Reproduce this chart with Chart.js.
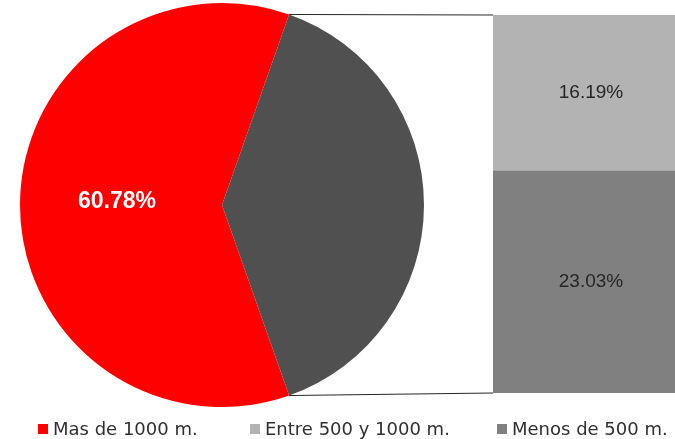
<!DOCTYPE html>
<html><head><meta charset="utf-8">
<script src="https://cdn.jsdelivr.net/npm/chart.js@4.4.1/dist/chart.umd.min.js"></script>
<style>
html,body{margin:0;padding:0;width:675px;height:439px;overflow:hidden;background:#fff;}
#barWrap{position:absolute;left:493px;top:15px;width:196px;height:378px;}
#pieWrap{position:absolute;left:0;top:0;width:675px;height:439px;}
#legend{position:absolute;top:418px;left:0;width:675px;height:21px;font-family:"DejaVu Sans",sans-serif;font-size:18px;color:#303030;}
.item{position:absolute;top:0;height:21px;display:flex;align-items:center;white-space:nowrap;}
.sw{width:10px;height:10px;margin-right:5px;flex:none;}
</style></head>
<body>
<div id="barWrap"><canvas id="bar"></canvas></div>
<div id="pieWrap"><canvas id="pie"></canvas></div>
<div id="legend"></div>
<script>
// ---- data ----
const categories = ['Mas de 1000 m.', 'Entre 500 y 1000 m.', 'Menos de 500 m.'];
const pieLabels = ['Mas de 1000 m.', 'Otros'];
const mainValue = 60.78;
const barCategories = ['Menos de 500 m.', 'Entre 500 y 1000 m.'];   // bottom -> top
const barValues = [23.03, 16.19];
// ---- styles ----
const catColors = ['#ff0000', '#b3b3b3', '#808080'];
const otherColor = '#505050';
const barColors = ['#808080', '#b3b3b3'];
const legendLefts = [38, 250, 497];

const fmt = v => v.toFixed(2) + '%';
const otherTotal = barValues.reduce((a, b) => a + b, 0);

// ---- bar (stacked) ----
const barLabelPlugin = {
  id: 'barLabels',
  afterDatasetsDraw(chart) {
    const ctx = chart.ctx;
    ctx.save();
    ctx.font = '19px "Liberation Sans", Arial, sans-serif';
    ctx.fillStyle = '#262626';
    ctx.textAlign = 'center';
    ctx.textBaseline = 'middle';
    chart.data.datasets.forEach((ds, i) => {
      chart.getDatasetMeta(i).data.forEach((el, j) => {
        const p = el.getProps(['x', 'y', 'base'], true);
        ctx.fillText(fmt(ds.data[j]), p.x, (p.y + p.base) / 2);
      });
    });
    ctx.restore();
  }
};
const barChart = new Chart(document.getElementById('bar'), {
  type: 'bar',
  data: {
    labels: [''],
    datasets: barCategories.map((c, i) => ({
      label: c, data: [barValues[i]], backgroundColor: barColors[i],
      borderWidth: 0, barPercentage: 1, categoryPercentage: 1
    }))
  },
  options: {
    responsive: true, maintainAspectRatio: false, animation: false,
    layout: { padding: 0 },
    plugins: { legend: { display: false }, tooltip: { enabled: false } },
    scales: {
      x: { display: false, stacked: true },
      y: { display: false, stacked: true, min: 0, max: otherTotal }
    }
  },
  plugins: [barLabelPlugin]
});

// ---- pie ----
const piePlugin = {
  id: 'pieExtras',
  afterDraw(chart) {
    const ctx = chart.ctx;
    const arcs = chart.getDatasetMeta(0).data;
    const a = arcs[0].getProps(['x', 'y', 'startAngle', 'endAngle', 'outerRadius'], true);
    const mid = (a.startAngle + a.endAngle) / 2;
    ctx.save();
    ctx.font = 'bold 23px "Liberation Sans", Arial, sans-serif';
    ctx.fillStyle = '#ffffff';
    ctx.textAlign = 'center';
    ctx.textBaseline = 'middle';
    ctx.fillText(fmt(chart.data.datasets[0].data[0]), a.x + Math.cos(mid) * a.outerRadius * 0.52, a.y - 3 + Math.sin(mid) * a.outerRadius * 0.52);
    // connectors
    const o = arcs[1].getProps(['x', 'y', 'startAngle', 'endAngle', 'outerRadius'], true);
    const pr = chart.canvas.getBoundingClientRect();
    const br = barChart.canvas.getBoundingClientRect();
    const dx = br.left - pr.left, dy = br.top - pr.top;
    const t = barChart.getDatasetMeta(barChart.data.datasets.length - 1).data[0].getProps(['x', 'y', 'width'], true);
    const b = barChart.getDatasetMeta(0).data[0].getProps(['x', 'base', 'width'], true);
    ctx.strokeStyle = '#262626';
    ctx.lineWidth = 1;
    ctx.beginPath();
    ctx.moveTo(o.x + Math.cos(o.startAngle) * o.outerRadius, o.y + Math.sin(o.startAngle) * o.outerRadius);
    ctx.lineTo(dx + t.x - t.width / 2, dy + t.y);
    ctx.moveTo(o.x + Math.cos(o.endAngle) * o.outerRadius, o.y + Math.sin(o.endAngle) * o.outerRadius);
    ctx.lineTo(dx + b.x - b.width / 2, dy + b.base);
    ctx.stroke();
    ctx.restore();
  }
};
new Chart(document.getElementById('pie'), {
  type: 'pie',
  data: {
    labels: pieLabels,
    datasets: [{
      data: [mainValue, otherTotal],
      backgroundColor: [catColors[0], otherColor],
      borderWidth: 0, hoverOffset: 0, offset: 0
    }]
  },
  options: {
    responsive: true, maintainAspectRatio: false, animation: false,
    rotation: 90 + otherTotal / 100 * 180,
    layout: { padding: { left: 20, top: 3, right: 251, bottom: 32 } },
    plugins: { legend: { display: false }, tooltip: { enabled: false } }
  },
  plugins: [piePlugin]
});

// ---- legend ----
const lg = document.getElementById('legend');
categories.forEach((c, i) => {
  const it = document.createElement('div');
  it.className = 'item';
  it.style.left = legendLefts[i] + 'px';
  const sw = document.createElement('span');
  sw.className = 'sw';
  sw.style.background = catColors[i];
  const tx = document.createElement('span');
  tx.textContent = c;
  it.appendChild(sw); it.appendChild(tx);
  lg.appendChild(it);
});
</script>
</body></html>
